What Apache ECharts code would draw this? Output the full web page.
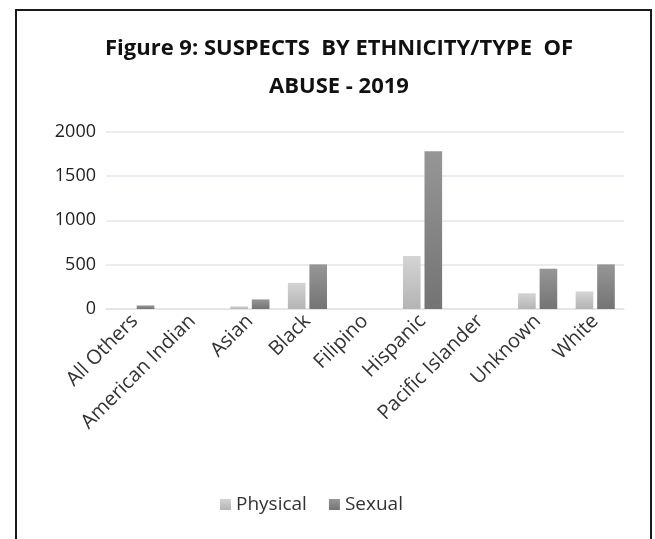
<!DOCTYPE html>
<html>
<head>
<meta charset="utf-8">
<script src="https://cdn.jsdelivr.net/npm/echarts@6/dist/echarts.min.js"></script>
<style>
html,body{margin:0;padding:0;background:#fff;}
#c{width:655px;height:539px;}
</style>
</head>
<body>
<div id="c"></div>
<script>
var categories = ['All Others','American Indian','Asian','Black','Filipino','Hispanic','Pacific Islander','Unknown','White'];
var physical = [0, 0, 30, 295, 0, 597, 0, 177, 197];
var sexual = [40, 0, 108, 503, 0, 1778, 0, 454, 503];
var yTicks = [0, 500, 1000, 1500, 2000];
var titleLines = ['Figure 9: SUSPECTS  BY ETHNICITY/TYPE  OF', 'ABUSE - 2019'];
var seriesNames = ['Physical', 'Sexual'];

var FONT = '"Open Sans", "DejaVu Sans", sans-serif';
function grad(top, bottom){
  return new echarts.graphic.LinearGradient(0,0,0,1,[{offset:0,color:top},{offset:1,color:bottom}]);
}
var chart = echarts.init(document.getElementById('c'), null, {renderer:'canvas'});
chart.setOption({
  animation:false,
  backgroundColor:'#fff',
  title:{
    text: titleLines.join('\n'),
    left: 334, top: 25, textAlign:'center',
    textStyle:{fontFamily:FONT, fontSize:22, fontWeight:'bold', color:'#111', lineHeight:38}
  },
  graphic:[{
    type:'rect', shape:{x:16, y:10, width:635, height:560},
    style:{fill:'none', stroke:'#1a1a1a', lineWidth:2}, silent:true
  }],
  legend:{
    data: seriesNames, top: 490, left: 215,
    itemWidth:11, itemHeight:11, itemGap:22, icon:'rect',
    textStyle:{fontFamily:FONT, fontSize:19, color:'#333'}
  },
  grid:{left:106, right:31, top:131.5, height:177.5},
  xAxis:{
    type:'category', data:categories,
    axisLine:{show:true, lineStyle:{color:'#dfe3ea', width:1.5}},
    axisTick:{show:false},
    axisLabel:{rotate:45, interval:0, fontFamily:FONT, fontSize:20, color:'#333', margin:9}
  },
  yAxis:{
    type:'value', min:0, max:2000, interval:500,
    axisLine:{show:false}, axisTick:{show:false},
    splitLine:{lineStyle:{color:'#e3e6ec', width:1.5}},
    axisLabel:{fontFamily:FONT, fontSize:18, color:'#222', margin:10,
      formatter:function(v){return yTicks.indexOf(v)>=0 ? String(v) : '';}}
  },
  series:[
    {name:seriesNames[0], type:'bar', data:physical, barGap:'22%', barCategoryGap:'32%',
     itemStyle:{color:grad('#d4d4d4','#b4b4b4')}},
    {name:seriesNames[1], type:'bar', data:sexual,
     itemStyle:{color:grad('#969696','#747474')}}
  ]
});
</script>
</body>
</html>
